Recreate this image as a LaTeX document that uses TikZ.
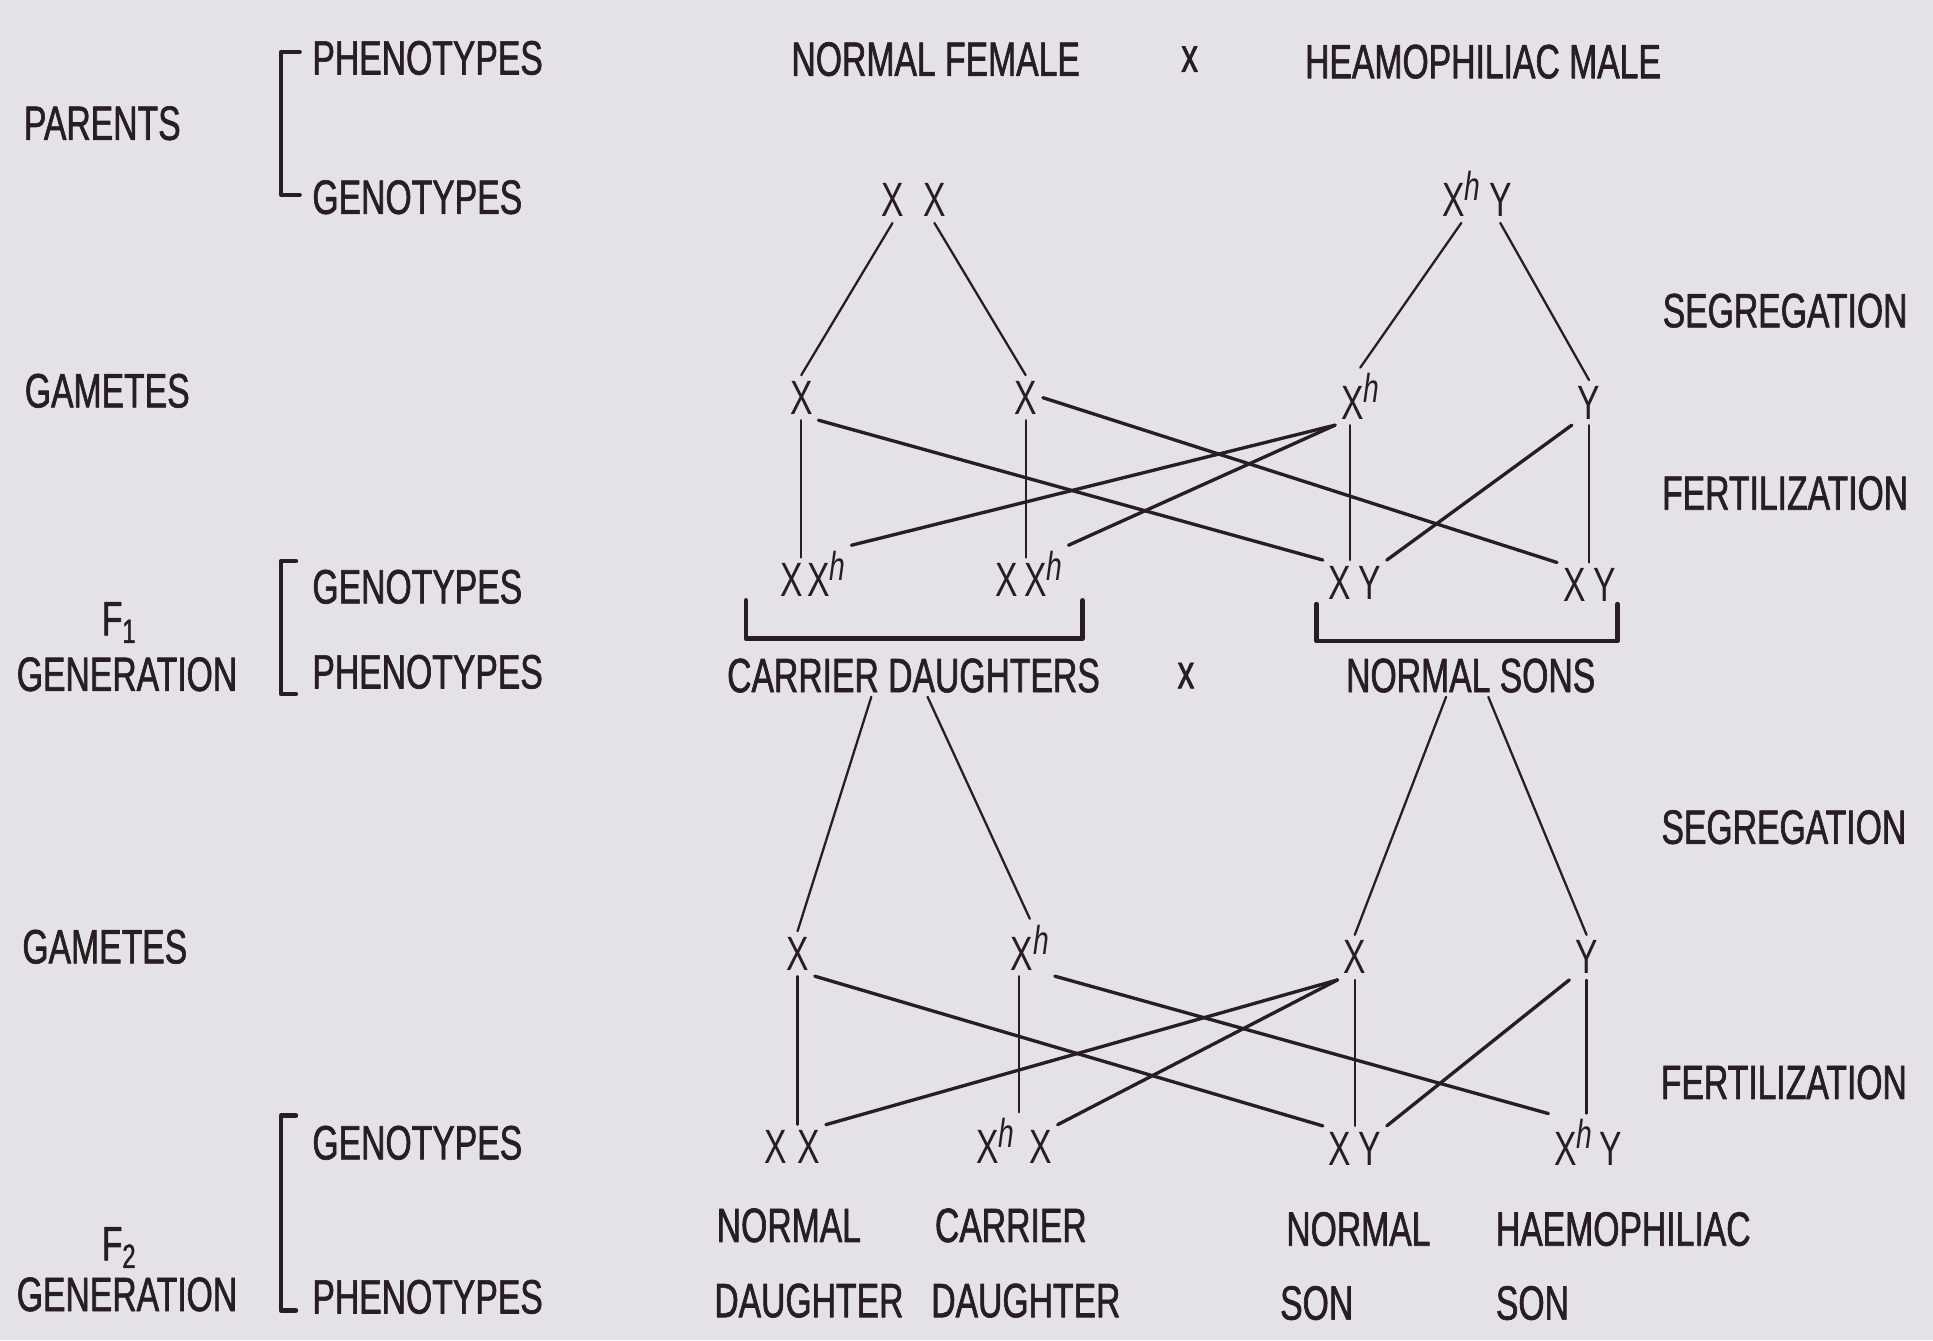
\documentclass[tikz,border=0pt]{standalone}
\usepackage{fontspec}
\setmainfont{Liberation Sans}[FakeStretch=0.7]
\newfontfamily\labfont{Liberation Sans}[FakeStretch=0.7,FakeBold=1.3]
\definecolor{ink}{RGB}{40,30,34}
\definecolor{paper}{RGB}{228,226,232}
\newcommand{\Xh}{X\raisebox{4.6pt}{\fontsize{11.5}{12}\selectfont\itshape h}}
\tikzset{
  lbl/.style={text=ink,font=\labfont\fontsize{13.7}{16}\selectfont,inner sep=1pt},
  gen/.style={text=ink,font=\fontsize{13.7}{16}\selectfont,anchor=base west,inner sep=1.5pt},
  link/.style={draw=ink,line width=0.65pt},
  cross/.style={draw=ink,line width=0.95pt},
  brk/.style={draw=ink,line width=1.3pt}
}
\begin{document}
\begin{tikzpicture}[x=0.12328mm,y=-0.12328mm,line cap=round,line join=round]
  \fill[paper] (0,0) rectangle (1568,1087);
  \useasboundingbox (0,0) rectangle (1568,1087);
  \node[lbl] (parents) at (83,100) {PARENTS};
  \node[lbl,anchor=west] (pphen) at (250,47) {PHENOTYPES};
  \node[lbl,anchor=west] (pgen) at (250,160) {GENOTYPES};
  \draw[brk] (243,42) -- (228,42) -- (228,158) -- (243,158);
  \node[lbl] (gamone) at (87,317) {GAMETES};
  \node[lbl] (fone) at (97,505) {F\textsubscript{1}};
  \node[lbl] (fonegen) at (103,547) {GENERATION};
  \node[lbl,anchor=west] (fogen) at (250,476) {GENOTYPES};
  \node[lbl,anchor=west] (fophen) at (250,545) {PHENOTYPES};
  \draw[brk] (240,455) -- (228,455) -- (228,563) -- (240,563);
  \node[lbl] (gamtwo) at (85,768) {GAMETES};
  \node[lbl] (ftwo) at (97,1012) {F\textsubscript{2}};
  \node[lbl] (ftwogen) at (103,1050) {GENERATION};
  \node[lbl,anchor=west] (ftgen) at (250,927) {GENOTYPES};
  \node[lbl,anchor=west] (ftphen) at (250,1052) {PHENOTYPES};
  \draw[brk] (240,905) -- (228,905) -- (228,1063) -- (240,1063);

  \node[lbl] (female) at (759,48) {NORMAL FEMALE};
  \node[lbl] (crossone) at (965,48) {x};
  \node[lbl] (male) at (1203,50) {HEAMOPHILIAC MALE};
  \node[lbl] (segone) at (1448,252) {SEGREGATION};
  \node[lbl] (fertone) at (1448,400) {FERTILIZATION};
  \node[lbl] (segtwo) at (1447,671) {SEGREGATION};
  \node[lbl] (ferttwo) at (1447,878) {FERTILIZATION};

  \node[gen] (pxa) at (710,176) {X};
  \node[gen] (pxb) at (744,176) {X};
  \node[gen] (pxh) at (1165,176) {\Xh};
  \node[gen] (py) at (1203,176) {Y};

  \node[gen] (ga1) at (636,336) {X};
  \node[gen] (ga2) at (818,336) {X};
  \node[gen] (gb1) at (1083,340) {\Xh};
  \node[gen] (gb2) at (1275,340) {Y};

  \node[gen] (da1) at (628,484) {X};
  \node[gen] (db1) at (650,484) {\Xh};
  \node[gen] (da2) at (803,484) {X};
  \node[gen] (db2) at (826,484) {\Xh};
  \node[gen] (sa1) at (1073,486) {X};
  \node[gen] (sb1) at (1097,486) {Y};
  \node[gen] (sa2) at (1263,488) {X};
  \node[gen] (sb2) at (1288,488) {Y};

  \draw[link] (pxa.south) -- (ga1.north);
  \draw[link] (pxb.south) -- (ga2.north);
  \draw[link] (pxh.south) -- (gb1.north);
  \draw[link] (py.south) -- (gb2.north);
  \draw[link] (ga1.south) -- (ga1.south |- da1.north);
  \draw[link] (ga2.south) -- (ga2.south |- da2.north);
  \draw[link] ([xshift=-3pt]gb1.south) -- ([xshift=-3pt]gb1.south |- sa1.north);
  \draw[link] (gb2.south) -- (gb2.south |- sb2.north);
  \draw[cross] (ga1.south east) -- (sa1.north west);
  \draw[cross] (ga2.east) -- (sa2.north west);
  \draw[cross] (gb1.south west) -- (db1.north east);
  \draw[cross] (gb1.south west) -- (db2.north east);
  \draw[cross] (gb2.south west) -- (sb1.north east);

  \draw[brk] (605,487) -- (605,518) -- (878,518) -- (878,487);
  \draw[brk] (1068,490) -- (1068,520) -- (1312,520) -- (1312,490);
  \node[lbl] (cdau) at (741,548) {CARRIER DAUGHTERS};
  \node[lbl] (crosstwo) at (962,548) {x};
  \node[lbl] (nsons) at (1193,548) {NORMAL SONS};

  \node[gen] (ga3) at (633,787) {X};
  \node[gen] (ga4) at (815,787) {\Xh};
  \node[gen] (gb3) at (1085,790) {X};
  \node[gen] (gb4) at (1273,790) {Y};

  \node[gen] (fa1) at (615,944) {X};
  \node[gen] (fa2) at (642,944) {X};
  \node[gen] (fb1) at (787,944) {\Xh};
  \node[gen] (fb2) at (830,944) {X};
  \node[gen] (fc1) at (1073,945) {X};
  \node[gen] (fc2) at (1097,945) {Y};
  \node[gen] (fd1) at (1256,945) {\Xh};
  \node[gen] (fd2) at (1293,945) {Y};

  \draw[link] ([xshift=-12pt]cdau.south) -- (ga3.north);
  \draw[link] ([xshift=4pt]cdau.south) -- (ga4.north);
  \draw[link] ([xshift=-7pt]nsons.south) -- (gb3.north);
  \draw[link] ([xshift=5pt]nsons.south) -- (gb4.north);
  \draw[link] (ga3.south) -- (ga3.south |- fa1.north);
  \draw[link] ([xshift=-3pt]ga4.south) -- ([xshift=-3pt]ga4.south |- fb1.north);
  \draw[link] (gb3.south) -- (gb3.south |- fc1.north);
  \draw[link] (gb4.south) -- (gb4.south |- fd1.north);
  \draw[cross] (ga3.south east) -- (fc1.north west);
  \draw[cross] (ga4.south east) -- (fd1.north west);
  \draw[cross] (gb3.south west) -- (fa2.north east);
  \draw[cross] (gb3.south west) -- (fb2.north east);
  \draw[cross] (gb4.south west) -- (fc2.north east);

  \node[lbl,anchor=west] (pnd1) at (578,994) {NORMAL};
  \node[lbl,anchor=west] (pnd2) at (576,1055) {DAUGHTER};
  \node[lbl,anchor=west] (pcd1) at (755,994) {CARRIER};
  \node[lbl,anchor=west] (pcd2) at (752,1055) {DAUGHTER};
  \node[lbl,anchor=west] (pns1) at (1040,997) {NORMAL};
  \node[lbl,anchor=west] (pns2) at (1035,1057) {SON};
  \node[lbl,anchor=west] (phs1) at (1210,997) {HAEMOPHILIAC};
  \node[lbl,anchor=west] (phs2) at (1210,1057) {SON};
\end{tikzpicture}
\end{document}
